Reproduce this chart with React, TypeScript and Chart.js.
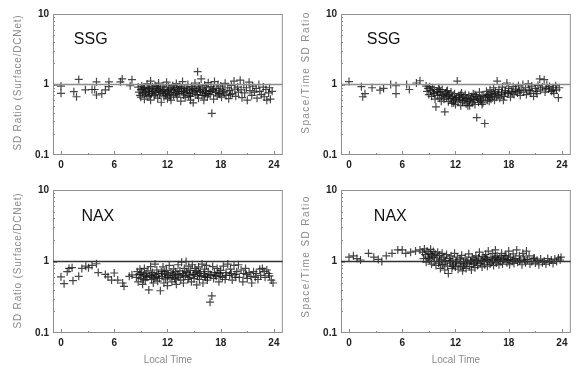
import React, { useEffect, useRef } from 'react';
import { Chart, registerables } from 'chart.js';

Chart.register(...registerables);

// ---- axis ticks ----
const xTicks = [0, 6, 12, 18, 24];
const xMinorTicks = [3, 9, 15, 21];
const yTicks = [0.1, 1, 10];
const refValue = 1;
const xTitle = 'Local Time';
const yTitleSurface = 'SD Ratio (Surface/DCNet)';
const yTitleSpaceTime = 'Space/Time SD Ratio';

// ---- data: [local time (h), ratio] ----
const ssgSurface: number[][] = [
  [0.0, 0.95], [0.0, 0.75], [1.45, 0.79], [1.75, 0.67], [2.0, 1.18], [2.75, 0.84], [3.5, 0.85], [3.8, 0.85],
  [4.0, 1.09], [4.0, 0.71], [4.6, 0.74], [5.0, 0.84], [5.4, 1.09], [5.4, 0.93], [6.7, 1.09], [6.9, 1.2],
  [7.8, 0.96], [8.0, 1.17],
  [8.7, 0.92], [8.8, 0.78], [8.9, 0.7], [9.0, 0.85], [9.0, 0.66], [9.1, 0.95], [9.2, 0.75], [9.3, 0.88],
  [9.4, 0.62], [9.5, 0.81], [9.6, 0.72], [9.7, 1.02], [9.8, 0.9], [9.8, 0.68], [9.9, 0.79], [10.0, 0.86],
  [10.1, 0.6], [10.1, 1.12], [10.2, 0.74], [10.3, 0.93], [10.4, 0.83], [10.5, 0.69], [10.6, 0.97], [10.7, 0.77],
  [10.8, 0.88], [10.9, 0.64], [11.0, 1.05], [11.0, 0.82], [11.1, 0.71], [11.2, 0.9], [11.3, 0.56], [11.4, 0.79],
  [11.5, 0.95], [11.6, 0.67], [11.7, 0.85], [11.8, 0.75], [11.9, 1.08], [12.0, 0.8], [12.0, 0.63], [12.1, 0.92],
  [12.2, 0.72], [12.3, 0.87], [12.4, 0.6], [12.5, 0.83], [12.6, 0.97], [12.7, 0.7], [12.8, 0.89], [12.9, 0.77],
  [13.0, 1.03], [13.1, 0.66], [13.2, 0.84], [13.3, 0.74], [13.4, 0.94], [13.5, 0.58], [13.6, 0.8], [13.7, 1.1],
  [13.8, 0.71], [13.9, 0.87], [14.0, 0.65], [14.1, 0.9], [14.2, 0.78], [14.3, 1.0], [14.4, 0.69], [14.5, 0.84],
  [14.6, 0.6], [14.7, 0.93], [14.8, 0.76], [14.9, 0.55], [15.0, 0.88], [15.1, 1.05], [15.2, 0.72], [15.3, 0.82],
  [15.4, 1.52], [15.5, 0.64], [15.6, 0.95], [15.7, 0.79], [15.8, 1.2], [15.9, 0.7], [16.0, 0.86], [16.1, 0.6],
  [16.2, 0.98], [16.3, 0.75], [16.4, 0.9], [16.5, 0.67], [16.6, 1.06], [16.7, 0.8], [16.8, 0.72], [16.9, 0.93],
  [17.0, 0.39], [17.1, 0.84], [17.2, 0.62], [17.3, 1.1], [17.4, 0.77], [17.5, 0.88], [17.6, 0.69], [17.7, 1.0],
  [17.8, 0.81], [17.9, 0.73], [18.0, 0.95], [18.1, 0.66], [18.2, 0.86], [18.4, 0.76], [18.5, 1.04], [18.6, 0.7],
  [18.8, 0.9], [18.9, 0.63], [19.0, 0.82], [19.2, 0.97], [19.3, 0.74], [19.5, 1.12], [19.6, 0.86], [19.7, 0.68],
  [19.9, 0.92], [20.0, 0.78], [20.2, 1.15], [20.3, 0.84], [20.4, 0.65], [20.6, 1.0], [20.7, 0.76], [20.9, 0.9],
  [21.0, 0.6], [21.2, 1.08], [21.3, 0.82], [21.5, 0.7], [21.6, 0.95], [21.8, 0.78], [22.0, 0.88], [22.1, 0.64],
  [22.3, 1.0], [22.4, 0.8], [22.6, 0.72], [22.8, 0.92], [22.9, 0.67], [23.1, 0.85], [23.2, 0.6], [23.4, 0.76],
  [23.5, 0.9], [23.6, 0.62], [23.8, 0.8],
  [9.2, 0.84], [9.5, 0.77], [9.9, 0.88], [10.3, 0.8], [10.6, 0.73], [10.9, 0.86], [11.2, 0.78], [11.5, 0.83],
  [11.8, 0.7], [12.1, 0.81], [12.4, 0.76], [12.7, 0.85], [13.0, 0.73], [13.3, 0.8], [13.6, 0.88], [13.9, 0.76],
  [14.2, 0.83], [14.5, 0.74], [14.8, 0.86], [15.1, 0.79], [15.4, 0.71], [15.7, 0.84], [16.0, 0.77], [16.3, 0.82],
  [16.6, 0.74], [16.9, 0.8], [9.4, 0.9], [10.0, 0.7], [10.8, 0.93], [11.6, 0.75], [12.3, 0.66], [13.1, 0.91],
  [13.8, 0.79], [14.6, 0.68], [15.5, 0.9], [16.2, 0.7], [17.2, 0.86], [17.8, 0.74], [18.3, 0.8], [19.1, 0.72],
];

const ssgSpaceTime: number[][] = [
  [0.0, 1.1], [1.4, 0.93], [1.55, 0.67], [1.8, 0.74], [2.6, 0.9], [3.5, 0.83], [3.9, 0.88], [4.7, 1.0],
  [5.3, 0.96], [5.3, 0.74], [6.5, 1.0], [6.8, 0.85], [7.6, 1.05], [8.0, 1.13],
  [8.7, 0.95], [8.8, 0.8], [8.9, 0.88], [9.0, 0.72], [9.1, 0.93], [9.2, 0.82], [9.3, 0.68], [9.4, 0.9],
  [9.5, 0.76], [9.6, 0.85], [9.7, 0.62], [9.8, 0.48], [9.9, 0.8], [10.0, 0.7], [10.1, 0.9], [10.2, 0.64],
  [10.3, 0.78], [10.4, 0.58], [10.5, 0.85], [10.6, 0.7], [10.7, 0.62], [10.8, 0.41], [10.9, 0.75], [11.0, 0.66],
  [11.1, 0.82], [11.2, 0.57], [11.3, 0.72], [11.4, 0.63], [11.5, 0.78], [11.6, 0.54], [11.7, 0.68], [11.8, 0.6],
  [11.9, 0.74], [12.0, 0.52], [12.1, 0.65], [12.2, 1.12], [12.3, 0.58], [12.4, 0.7], [12.5, 0.62], [12.6, 0.5],
  [12.7, 0.76], [12.8, 0.56], [12.9, 0.66], [13.0, 0.6], [13.1, 0.72], [13.2, 0.53], [13.3, 0.64], [13.4, 0.58],
  [13.5, 0.7], [13.6, 0.5], [13.7, 0.62], [13.8, 0.67], [13.9, 0.55], [14.0, 0.74], [14.1, 0.6], [14.2, 0.52],
  [14.3, 0.68], [14.4, 0.34], [14.5, 0.62], [14.6, 0.56], [14.7, 0.78], [14.8, 0.64], [14.9, 0.58], [15.0, 0.7],
  [15.1, 0.55], [15.3, 0.28], [15.4, 0.66], [15.5, 0.8], [15.6, 0.6], [15.7, 0.72], [15.8, 0.65], [15.9, 0.84],
  [16.0, 0.62], [16.1, 0.76], [16.2, 0.68], [16.3, 0.9], [16.4, 0.6], [16.5, 0.8], [16.7, 1.12], [16.8, 0.7],
  [16.9, 0.85], [17.0, 0.64], [17.2, 0.78], [17.3, 0.92], [17.5, 0.68], [17.6, 0.82], [17.8, 1.05], [17.9, 0.74],
  [18.0, 0.88], [18.2, 0.66], [18.3, 0.8], [18.5, 0.93], [18.6, 0.72], [18.8, 0.86], [19.0, 0.76], [19.1, 0.96],
  [19.3, 0.7], [19.4, 0.84], [19.6, 1.0], [19.7, 0.78], [19.9, 0.9], [20.0, 0.72], [20.2, 1.02], [20.3, 0.84],
  [20.5, 0.75], [20.6, 0.95], [20.8, 0.68], [21.0, 0.88], [21.1, 0.8], [21.3, 0.97], [21.5, 1.2], [21.6, 0.84],
  [21.8, 0.92], [22.0, 1.17], [22.1, 0.78], [22.3, 1.0], [22.5, 0.86], [22.6, 0.94], [22.8, 0.8], [23.0, 0.9],
  [23.1, 0.75], [23.3, 0.96], [23.4, 0.84], [23.6, 0.65], [23.7, 0.9],
  [9.6, 0.74], [10.0, 0.78], [10.4, 0.72], [10.8, 0.68], [11.2, 0.7], [11.6, 0.64], [12.0, 0.62], [12.4, 0.66],
  [12.8, 0.6], [13.2, 0.63], [13.6, 0.58], [14.0, 0.62], [14.4, 0.66], [14.8, 0.6], [15.2, 0.68], [15.6, 0.7],
  [16.0, 0.72], [16.4, 0.74], [16.8, 0.76], [17.2, 0.72], [17.6, 0.76], [18.0, 0.78], [18.4, 0.76], [18.8, 0.8],
  [19.2, 0.82], [10.2, 0.85], [11.0, 0.8], [11.8, 0.55], [12.6, 0.72], [13.4, 0.5], [14.2, 0.72], [15.0, 0.52],
  [15.8, 0.58], [16.6, 0.66], [17.4, 0.6], [20.4, 0.82], [21.2, 0.74], [22.2, 0.88], [23.0, 0.82],
];

const naxSurface: number[][] = [
  [0.0, 0.61], [0.35, 0.49], [0.7, 0.72], [0.9, 0.8], [1.25, 0.82], [1.35, 0.54], [2.0, 0.62], [2.35, 0.8],
  [2.8, 0.86], [3.1, 0.82], [3.5, 0.88], [4.0, 0.93], [4.2, 0.7], [5.0, 0.66], [5.3, 0.61], [5.7, 0.55],
  [6.0, 0.69], [6.4, 0.55], [6.95, 0.5], [7.1, 0.45], [7.7, 0.62], [8.0, 0.65],
  [8.5, 0.6], [8.6, 0.72], [8.7, 0.52], [8.8, 0.66], [8.9, 0.78], [9.0, 0.58], [9.1, 0.7], [9.2, 0.48],
  [9.3, 0.64], [9.4, 0.8], [9.5, 0.55], [9.6, 0.68], [9.7, 0.6], [9.8, 0.74], [9.9, 0.4], [10.0, 0.63],
  [10.1, 0.85], [10.2, 0.56], [10.3, 0.7], [10.4, 0.5], [10.5, 0.66], [10.6, 0.92], [10.7, 0.6], [10.8, 0.76],
  [10.9, 0.53], [11.0, 0.68], [11.1, 0.58], [11.2, 0.39], [11.3, 0.72], [11.4, 0.62], [11.5, 0.84], [11.6, 0.5],
  [11.7, 0.66], [11.8, 0.57], [11.9, 0.75], [12.0, 0.46], [12.1, 0.64], [12.2, 0.88], [12.3, 0.6], [12.4, 0.7],
  [12.5, 0.52], [12.6, 0.67], [12.7, 0.79], [12.8, 0.58], [12.9, 0.72], [13.0, 0.48], [13.1, 0.65], [13.2, 0.9],
  [13.3, 0.6], [13.4, 0.74], [13.5, 0.55], [13.6, 0.98], [13.7, 0.68], [13.8, 0.5], [13.9, 0.8], [14.0, 0.62],
  [14.1, 1.0], [14.2, 0.7], [14.3, 0.56], [14.4, 0.86], [14.5, 0.64], [14.6, 0.75], [14.7, 0.52], [14.8, 0.9],
  [14.9, 0.66], [15.0, 0.58], [15.1, 0.8], [15.2, 0.7], [15.3, 0.47], [15.4, 0.62], [15.5, 0.84], [15.6, 0.56],
  [15.7, 0.72], [15.8, 0.64], [15.9, 0.92], [16.0, 0.5], [16.1, 0.68], [16.2, 0.78], [16.3, 0.6], [16.4, 0.88],
  [16.5, 0.55], [16.6, 0.72], [16.8, 0.27], [16.9, 0.64], [17.0, 0.33], [17.1, 0.85], [17.2, 0.58], [17.3, 0.7],
  [17.5, 0.62], [17.6, 0.8], [17.8, 0.52], [17.9, 0.68], [18.0, 0.75], [18.2, 0.6], [18.3, 0.86], [18.5, 0.56],
  [18.6, 0.7], [18.8, 0.92], [19.0, 0.64], [19.1, 0.78], [19.3, 0.55], [19.5, 0.88], [19.6, 0.66], [19.8, 0.72],
  [20.0, 0.9], [20.1, 0.6], [20.3, 0.76], [20.5, 0.52], [20.6, 0.68], [20.8, 0.8], [21.0, 0.58], [21.2, 0.7],
  [21.4, 0.62], [21.5, 0.5], [21.7, 0.72], [21.9, 0.6], [22.0, 0.68], [22.2, 0.56], [22.4, 0.78], [22.5, 0.64],
  [22.7, 0.8], [22.9, 0.72], [23.0, 0.6], [23.2, 0.76], [23.4, 0.68], [23.5, 0.63], [23.7, 0.55], [23.9, 0.5],
  [9.0, 0.66], [9.6, 0.62], [10.2, 0.64], [10.8, 0.62], [11.4, 0.68], [12.0, 0.6], [12.6, 0.63], [13.2, 0.66],
  [13.8, 0.64], [14.4, 0.6], [15.0, 0.66], [15.6, 0.68], [16.2, 0.62], [16.8, 0.66], [17.4, 0.64], [18.0, 0.62],
  [18.6, 0.64], [19.2, 0.68], [9.3, 0.56], [10.5, 0.58], [11.7, 0.72], [12.9, 0.56], [14.1, 0.72], [15.3, 0.74],
  [16.5, 0.6], [17.7, 0.7], [19.7, 0.6], [20.9, 0.66],
];

const naxSpaceTime: number[][] = [
  [0.0, 1.15], [0.5, 1.2], [0.9, 1.1], [1.3, 1.05], [2.2, 1.3], [2.8, 1.15], [3.3, 1.07], [3.7, 1.0],
  [4.2, 1.2], [4.85, 1.3], [5.5, 1.45], [6.0, 1.45], [6.4, 1.3], [6.95, 1.35], [7.5, 1.4], [8.0, 1.45],
  [8.3, 1.35], [8.4, 1.1], [8.5, 1.5], [8.6, 1.25], [8.7, 0.98], [8.8, 1.4], [8.9, 1.15], [9.0, 1.3],
  [9.1, 1.05], [9.2, 1.48], [9.3, 0.92], [9.4, 1.2], [9.5, 1.38], [9.6, 1.0], [9.7, 1.28], [9.8, 0.88],
  [9.9, 1.12], [10.0, 1.35], [10.1, 0.95], [10.2, 1.22], [10.3, 0.8], [10.4, 1.08], [10.5, 1.3], [10.6, 0.9],
  [10.7, 1.15], [10.8, 0.76], [10.9, 1.02], [11.0, 1.25], [11.1, 0.86], [11.2, 0.68], [11.3, 1.1], [11.4, 0.95],
  [11.5, 1.2], [11.6, 0.8], [11.7, 1.05], [11.8, 0.9], [11.9, 1.3], [12.0, 0.84], [12.1, 1.0], [12.2, 1.15],
  [12.3, 0.78], [12.4, 0.94], [12.5, 1.08], [12.6, 0.86], [12.7, 1.22], [12.8, 0.74], [12.9, 1.0], [13.0, 0.9],
  [13.1, 1.12], [13.2, 0.8], [13.3, 1.05], [13.4, 0.95], [13.5, 1.28], [13.6, 0.85], [13.7, 1.02], [13.8, 0.76],
  [13.9, 1.15], [14.0, 0.92], [14.1, 1.08], [14.2, 0.82], [14.3, 1.2], [14.4, 0.98], [14.5, 0.88], [14.6, 1.12],
  [14.7, 1.35], [14.8, 0.94], [14.9, 1.05], [15.0, 0.84], [15.1, 1.18], [15.2, 1.0], [15.3, 0.9], [15.4, 1.25],
  [15.5, 1.08], [15.6, 0.86], [15.7, 1.4], [15.8, 1.02], [15.9, 0.92], [16.0, 1.15], [16.1, 0.98], [16.2, 1.3],
  [16.3, 0.88], [16.4, 1.1], [16.5, 1.45], [16.6, 0.95], [16.7, 1.2], [16.8, 1.04], [16.9, 0.9], [17.0, 1.14],
  [17.1, 1.0], [17.2, 1.3], [17.3, 0.92], [17.5, 1.1], [17.6, 1.22], [17.8, 0.96], [17.9, 1.06], [18.0, 1.4],
  [18.1, 0.9], [18.2, 1.15], [18.4, 1.02], [18.5, 1.28], [18.6, 0.94], [18.8, 1.1], [18.9, 1.45], [19.0, 0.98],
  [19.2, 1.2], [19.3, 1.05], [19.5, 0.9], [19.6, 1.3], [19.7, 1.12], [19.9, 0.96], [20.0, 1.4], [20.1, 1.06],
  [20.3, 1.2], [20.4, 0.92], [20.6, 1.0], [20.8, 1.1], [21.0, 0.95], [21.2, 1.04], [21.4, 0.9], [21.6, 1.08],
  [21.8, 0.96], [22.0, 1.02], [22.2, 0.92], [22.4, 1.1], [22.6, 0.98], [22.8, 1.05], [23.0, 0.94], [23.2, 1.08],
  [23.4, 1.0], [23.6, 1.12], [23.8, 1.05], [23.9, 1.15],
  [9.0, 1.1], [9.6, 1.15], [10.2, 1.05], [10.8, 1.0], [11.4, 1.02], [12.0, 0.98], [12.6, 1.0], [13.2, 0.96],
  [13.8, 1.0], [14.4, 1.04], [15.0, 1.02], [15.6, 1.06], [16.2, 1.05], [16.8, 1.08], [17.4, 1.06], [18.0, 1.04],
  [18.6, 1.08], [19.2, 1.02], [9.3, 1.25], [10.5, 0.9], [11.7, 0.86], [12.9, 0.84], [14.1, 0.95], [15.3, 1.12],
  [16.5, 1.15], [17.7, 1.2], [19.8, 1.05], [20.9, 1.12],
];

const X_MIN = -0.9;
const X_MAX = 25;
const FONT = "'Liberation Sans', Arial, sans-serif";

const decorPlugin = {
  id: 'decor',
  beforeDatasetsDraw(chart: any) {
    const { ctx, chartArea: a, scales } = chart;
    const x = scales.x;
    const y = scales.y;
    ctx.save();
    ctx.strokeStyle = '#8f8f8f';
    ctx.lineWidth = 1;
    ctx.strokeRect(a.left + 0.5, a.top + 0.5, a.right - a.left - 1, a.bottom - a.top - 1);
    ctx.beginPath();
    for (const t of xTicks) {
      const px = Math.round(x.getPixelForValue(t)) + 0.5;
      ctx.moveTo(px, a.bottom);
      ctx.lineTo(px, a.bottom - 4);
    }
    for (const t of xMinorTicks) {
      const px = Math.round(x.getPixelForValue(t)) + 0.5;
      ctx.moveTo(px, a.bottom);
      ctx.lineTo(px, a.bottom - 2);
    }
    for (const d of [0.1, 1]) {
      for (let k = 2; k <= 9; k++) {
        const py = Math.round(y.getPixelForValue(d * k)) + 0.5;
        ctx.moveTo(a.left, py);
        ctx.lineTo(a.left + 2, py);
      }
    }
    const p1 = Math.round(y.getPixelForValue(1)) + 0.5;
    ctx.moveTo(a.left, p1);
    ctx.lineTo(a.left + 4, p1);
    ctx.stroke();
    ctx.restore();
  },
  afterDatasetsDraw(chart: any, _args: any, opts: any) {
    const { ctx, scales, chartArea: a } = chart;
    if (!opts) return;
    ctx.save();
    ctx.fillStyle = '#111';
    ctx.font = `16px ${FONT}`;
    ctx.textBaseline = 'middle';
    ctx.textAlign = 'left';
    ctx.fillText(opts.label, scales.x.getPixelForValue(opts.at[0]), scales.y.getPixelForValue(opts.at[1]));
    ctx.restore();
    // rotated y-axis title (letter-spaced, as in the source figure)
    ctx.save();
    ctx.fillStyle = '#8a8a8a';
    ctx.font = `10px ${FONT}`;
    try { (ctx as any).letterSpacing = opts.titleSpacing + 'px'; } catch (e) {}
    ctx.textAlign = 'center';
    ctx.textBaseline = 'middle';
    ctx.translate(18, (a.top + a.bottom) / 2 + opts.titleShift);
    ctx.rotate(-Math.PI / 2);
    ctx.fillText(opts.yTitle, 0, 0);
    ctx.restore();
  },
};

type PanelProps = {
  points: number[][];
  label: string;
  labelAt: number[];
  yTitle: string;
  titleSpacing: number;
  titleShift: number;
  showXTitle: boolean;
  refColor: string;
  left: number;
  top: number;
  width: number;
  height: number;
  padTop: number;
  xAxisHeight: number;
};

function Panel(p: PanelProps) {
  const ref = useRef<HTMLCanvasElement | null>(null);
  useEffect(() => {
    if (!ref.current) return;
    const chart = new Chart(ref.current, {
      type: 'scatter',
      data: {
        datasets: [
          {
            type: 'line',
            data: [{ x: X_MIN, y: refValue }, { x: X_MAX, y: refValue }],
            borderColor: p.refColor,
            borderWidth: 1.3,
            pointRadius: 0,
            fill: false,
          } as any,
          {
            data: p.points.map(([t, v]) => ({ x: t, y: v })),
            pointStyle: 'cross',
            pointRadius: 4,
            pointBorderWidth: 1.2,
            borderColor: 'rgba(25,25,25,0.8)',
            backgroundColor: 'rgba(25,25,25,0.8)',
          },
        ],
      },
      options: {
        animation: false,
        responsive: false,
        devicePixelRatio: 1,
        layout: { padding: { top: p.padTop, right: 1, left: 0, bottom: 0 } },
        plugins: {
          legend: { display: false },
          tooltip: { enabled: false },
          decor: {
            label: p.label,
            at: p.labelAt,
            yTitle: p.yTitle,
            titleSpacing: p.titleSpacing,
            titleShift: p.titleShift,
          },
        } as any,
        scales: {
          x: {
            type: 'linear',
            min: X_MIN,
            max: X_MAX,
            grid: { display: false, drawTicks: false },
            border: { display: false },
            afterBuildTicks: (s: any) => {
              s.ticks = xTicks.map((v) => ({ value: v }));
            },
            afterFit: (s: any) => {
              s.height = p.xAxisHeight;
            },
            ticks: {
              padding: 4,
              maxRotation: 0,
              color: '#222',
              font: { family: FONT, size: 10, weight: 'bold' },
              callback: (v: any) => String(v),
            },
            title: {
              display: p.showXTitle,
              text: xTitle,
              color: '#8a8a8a',
              font: { family: FONT, size: 10 },
              padding: { top: 0, bottom: 0 },
            },
          },
          y: {
            type: 'logarithmic',
            min: 0.1,
            max: 10,
            grid: { display: false, drawTicks: false },
            border: { display: false },
            afterBuildTicks: (s: any) => {
              s.ticks = yTicks.map((v) => ({ value: v }));
            },
            afterFit: (s: any) => {
              s.width = 53;
            },
            ticks: {
              padding: 4,
              color: '#222',
              font: { family: FONT, size: 10, weight: 'bold' },
              callback: (v: any) => (v === 0.1 ? '0.1' : v === 1 ? '1' : v === 10 ? '10' : ''),
            },
            title: { display: false },
          },
        },
      },
      plugins: [decorPlugin as any],
    });
    return () => chart.destroy();
  }, []);
  return (
    <canvas
      ref={ref}
      width={p.width}
      height={p.height}
      style={{ position: 'absolute', left: p.left, top: p.top, width: p.width, height: p.height }}
    />
  );
}

export default function App() {
  return (
    <div style={{ position: 'absolute', left: 0, top: 0, width: 576, height: 366, background: '#fff', overflow: 'hidden' }}>
      <Panel points={ssgSurface} label="SSG" labelAt={[1.45, 4.3]} yTitle={yTitleSurface} titleSpacing={0.8} titleShift={-2}
        showXTitle={false} refColor="#8c8c8c" left={0} top={0} width={288} height={180} padTop={14} xAxisHeight={25} />
      <Panel points={ssgSpaceTime} label="SSG" labelAt={[2.0, 4.3]} yTitle={yTitleSpaceTime} titleSpacing={1.4} titleShift={-12}
        showXTitle={false} refColor="#8c8c8c" left={288} top={0} width={288} height={180} padTop={14} xAxisHeight={25} />
      <Panel points={naxSurface} label="NAX" labelAt={[2.3, 4.3]} yTitle={yTitleSurface} titleSpacing={0.8} titleShift={-1}
        showXTitle={true} refColor="#333" left={0} top={180} width={288} height={186} padTop={9} xAxisHeight={33} />
      <Panel points={naxSpaceTime} label="NAX" labelAt={[2.8, 4.3]} yTitle={yTitleSpaceTime} titleSpacing={1.4} titleShift={-5}
        showXTitle={true} refColor="#333" left={288} top={180} width={288} height={186} padTop={9} xAxisHeight={33} />
    </div>
  );
}
